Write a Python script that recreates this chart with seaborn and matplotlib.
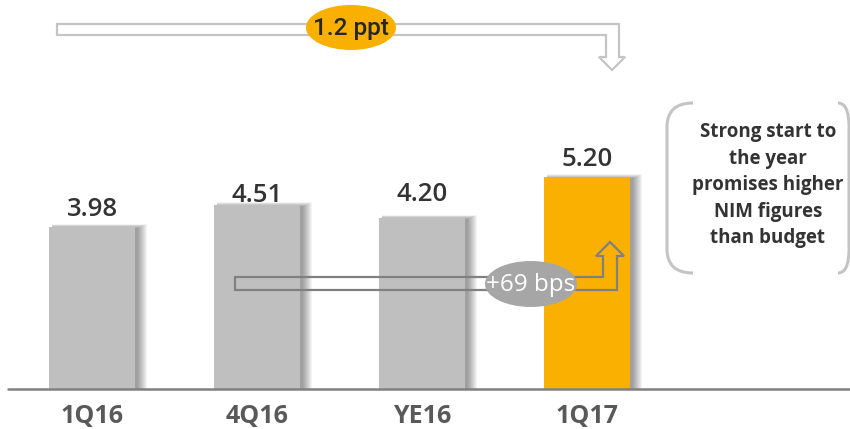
import matplotlib
matplotlib.use("Agg")
import matplotlib.pyplot as plt
import pandas as pd
import seaborn as sns
from matplotlib.patches import Rectangle, Ellipse, Polygon, PathPatch
from matplotlib.path import Path

# ---- data -----------------------------------------------------------------
periods = ["1Q16", "4Q16", "YE16", "1Q17"]
nim = [3.98, 4.51, 4.20, 5.20]
bar_colors = ["#BFBFBF", "#BFBFBF", "#BFBFBF", "#F9B000"]
value_labels = ["3.98", "4.51", "4.20", "5.20"]
total_change = "1.2 ppt"
quarter_change = "+69 bps"
note_lines = ["Strong start to", "the year", "promises higher",
              "NIM figures", "than budget"]

# ---- layout (pixels) ------------------------------------------------------
W, H = 850, 429
PX_X = 165.0          # pixels per category step
PX_Y = 40.8           # pixels per NIM unit
FIRST_X = 92          # pixel centre of the first bar
BASE_Y = 389          # pixel row of the baseline (from top)
label_gap_px = [11, 3, 17, 11]

sns.set_theme(style="white")
plt.rcParams["font.family"] = ["Open Sans", "DejaVu Sans"]

fig = plt.figure(figsize=(W / 100, H / 100), dpi=100)
fig.patch.set_facecolor("white")
ax = fig.add_axes([0, 0, 1, 1], zorder=1)

df = pd.DataFrame({"period": periods, "nim": nim})
sns.barplot(data=df, x="period", y="nim", hue="period", palette=bar_colors,
            width=86 / PX_X, saturation=1, legend=False, ax=ax, zorder=3,
            edgecolor="none", linewidth=0)

ax.set_xlim(-FIRST_X / PX_X, (W - FIRST_X) / PX_X)
ax.set_ylim(-(H - BASE_Y) / PX_Y, BASE_Y / PX_Y)
ax.set_axis_off()

# soft drop shadow falling to the right of every bar
for p in list(ax.patches):
    x0, w, h = p.get_x(), p.get_width(), p.get_height()
    for j in range(10):
        e = j * 1.0
        ax.add_patch(Rectangle((x0 + 3 / PX_X, 0),
                               w + e / PX_X, h + (e * 0.45 - 1.5) / PX_Y,
                               facecolor="black", edgecolor="none",
                               alpha=0.042, zorder=1))

# baseline
ax.axhline(0, xmin=8 / W, xmax=1, color="#808080", lw=1.8, zorder=4)

# value labels above bars
for i, (v, txt) in enumerate(zip(nim, value_labels)):
    ax.annotate(txt, xy=(i, v), xytext=(0, label_gap_px[i] * 0.72),
                textcoords="offset points", ha="center", va="baseline",
                fontsize=18.5, fontweight="semibold", color="#333333",
                zorder=5)

# category labels under the baseline
for i, name in enumerate(periods):
    ax.text(i, (H - 423) / H, name, transform=ax.get_xaxis_transform(),
            ha="center", va="baseline", fontsize=18, fontweight="bold",
            color="#595959")

# ---- annotation layer in pixel coordinates --------------------------------
ov = fig.add_axes([0, 0, 1, 1], zorder=3)
ov.set_xlim(0, W)
ov.set_ylim(H, 0)
ov.set_axis_off()
ov.patch.set_alpha(0)

# long arrow across the top
top_arrow = [(57, 24), (619, 24), (619, 57), (625, 57), (612, 70),
             (599, 57), (606, 57), (606, 35), (57, 35)]
ov.add_patch(Polygon(top_arrow, closed=True, facecolor="white",
                     edgecolor="#C4C4C4", lw=1.6, joinstyle="miter"))
ov.add_patch(Ellipse((351, 27.5), 90, 45, facecolor="#F9B000",
                     edgecolor="none"))
ov.text(351, 29, total_change, ha="center", va="center", fontsize=17.5,
        family=["Roboto", "DejaVu Sans"], fontweight="medium",
        color="#262626")

# short arrow from 4Q16 up into 1Q17
low_arrow = [(235, 277), (603, 277), (603, 256), (596, 256), (610, 242),
             (624, 256), (617, 256), (617, 290), (235, 290)]
ov.add_patch(Polygon(low_arrow, closed=True, facecolor="none",
                     edgecolor="#808080", lw=1.6, joinstyle="miter"))
ov.add_patch(Ellipse((531, 284), 92, 46, facecolor="#A6A6A6",
                     edgecolor="none"))
ov.text(531, 285, quarter_change, ha="center", va="center", fontsize=17.5,
        color="white")

# rounded brackets around the comment
r = 24
left = Path([(693, 103), (667, 103), (667, 103 + r), (667, 273 - r),
             (667, 273), (693, 273)],
            [Path.MOVETO, Path.CURVE3, Path.CURVE3, Path.LINETO,
             Path.CURVE3, Path.CURVE3])
right = Path([(838, 103), (849, 103), (849, 103 + r), (849, 273 - r),
              (849, 273), (838, 273)],
             [Path.MOVETO, Path.CURVE3, Path.CURVE3, Path.LINETO,
              Path.CURVE3, Path.CURVE3])
for pth in (left, right):
    ov.add_patch(PathPatch(pth, facecolor="none", edgecolor="#C4C4C4",
                           lw=2.2, capstyle="butt"))

for k, line in enumerate(note_lines):
    ov.text(768, 137 + k * 26.6, line, ha="center", va="baseline",
            fontsize=13.5, fontweight="bold", color="#333333")

fig.savefig("out.png", dpi=100, facecolor="white")
